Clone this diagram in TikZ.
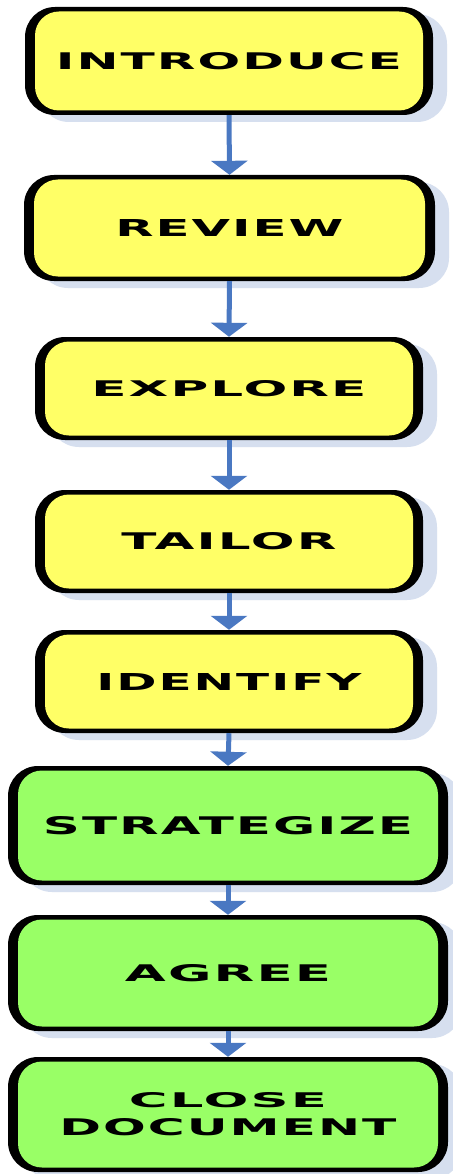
\documentclass[tikz,border=0pt]{standalone}
\usepackage{fontspec}
\setmainfont{DejaVu Sans}
\newfontfamily\boxfont[LetterSpace=4]{DejaVu Sans}
\usetikzlibrary{arrows.meta,shadows}
\definecolor{ylw}{HTML}{FFFF66}
\definecolor{grn}{HTML}{99FF66}
\definecolor{arr}{HTML}{4A78C2}
\definecolor{shd}{HTML}{D6DFEF}
\tikzset{
  stepbox/.style={rectangle, rounded corners=30pt, fill=black, inner sep=0pt,
    drop shadow={shadow xshift=14pt, shadow yshift=-7pt, fill=shd, opacity=1},
    path picture={\fill[#1, rounded corners=24pt]
      ([xshift=10pt,yshift=-4.5pt]path picture bounding box.north west) rectangle
      ([xshift=-10pt,yshift=4.5pt]path picture bounding box.south east);}},
  flow/.style={draw=arr, line width=5pt, -{Triangle[width=36pt,length=14pt]}}
}
\newcommand\lbl[3]{\resizebox{#1pt}{#2pt}{\boxfont\bfseries #3}}
\begin{document}
\begin{tikzpicture}[x=1pt,y=-1pt]
\useasboundingbox[fill=white] (0,0) rectangle (452,1174);
\node[stepbox=ylw, minimum width=408pt, minimum height=108pt] (intro) at (229,61) {\lbl{346}{17}{INTRODUCE}};
\node[stepbox=ylw, minimum width=411pt, minimum height=106pt] (review) at (229.5,228) {\lbl{228}{17}{REVIEW}};
\node[stepbox=ylw, minimum width=388pt, minimum height=103pt] (explore) at (229,388.5) {\lbl{275}{16}{EXPLORE}};
\node[stepbox=ylw, minimum width=388pt, minimum height=103pt] (tailor) at (229,541.5) {\lbl{215}{17}{TAILOR}};
\node[stepbox=ylw, minimum width=388pt, minimum height=103pt] (identify) at (229,681.5) {\lbl{265}{17}{IDENTIFY}};
\node[stepbox=grn, minimum width=440pt, minimum height=119pt] (strat) at (228,825.5) {\lbl{370}{18}{STRATEGIZE}};
\node[stepbox=grn, minimum width=440pt, minimum height=116pt] (agree) at (228,973) {\lbl{206}{17}{AGREE}};
\node[stepbox=grn, minimum width=440pt, minimum height=115pt, align=center] (close) at (228,1114.5)
  {\lbl{198}{15}{CLOSE}\\[10pt]\lbl{337}{17}{DOCUMENT}};
\draw[flow] (intro.south) -- (review.north);
\draw[flow] (review.south) -- (explore.north);
\draw[flow] (explore.south) -- (tailor.north);
\draw[flow] (tailor.south) -- (identify.north);
\draw[flow] (identify.south) -- (strat.north);
\draw[flow] (strat.south) -- (agree.north);
\draw[flow] (agree.south) -- (close.north);
\end{tikzpicture}
\end{document}
